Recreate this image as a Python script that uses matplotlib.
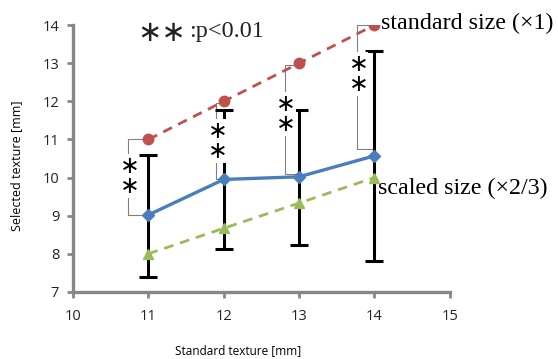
import matplotlib
matplotlib.use("Agg")
import matplotlib.pyplot as plt

# ---- data ----
x_std = [11, 12, 13, 14]
selected = [9.02, 9.95, 10.02, 10.57]
err_upper = [10.6, 11.77, 11.78, 13.32]
err_lower = [7.39, 8.13, 8.22, 7.82]
standard = [11, 12, 13, 14]
scaled = [8.0, 8.67, 9.33, 10.0]
bracket_top = [11.0, 11.95, 12.95, 14.0]
bracket_bottom = [9.02, 9.97, 10.1, 10.75]
bracket_x = [10.73, 11.9, 12.81, 13.77]
star_y = [10.05, 10.95, 11.66, 12.71]
xticks = [10, 11, 12, 13, 14, 15]
yticks = [7, 8, 9, 10, 11, 12, 13, 14]

AX_GRAY = "#878787"
RED = "#C0504D"
BLUE = "#4A7EBB"
GREEN = "#9BBB59"

fig = plt.figure(figsize=(5.58, 3.59), dpi=100)
ax = fig.add_axes([0.131, 0.187, 0.675, 0.743])
ax.set_xlim(10, 15)
ax.set_ylim(7, 14)

for s in ["top", "right"]:
    ax.spines[s].set_visible(False)
for s in ["left", "bottom"]:
    ax.spines[s].set_color(AX_GRAY)
    ax.spines[s].set_linewidth(2.4)

ax.set_xticks(xticks)
ax.set_yticks(yticks)
ax.tick_params(axis="both", colors=AX_GRAY, width=2.0, length=4, direction="out",
               labelcolor="#222222", labelsize=10.5)
for lab in ax.get_xticklabels() + ax.get_yticklabels():
    lab.set_family("Open Sans")
ax.tick_params(axis="x", pad=8)
ax.tick_params(axis="y", pad=6)

# error bars
yerr = [[s - l for s, l in zip(selected, err_lower)],
        [u - s for s, u in zip(selected, err_upper)]]
ax.errorbar(x_std, selected, yerr=yerr, fmt="none", ecolor="black",
            elinewidth=2.2, capsize=6.5, capthick=2.2, zorder=2)

# brackets
for xi, bx, top, bot in zip(x_std, bracket_x, bracket_top, bracket_bottom):
    ax.plot([xi, bx, bx, xi], [top, top, bot, bot], color="#808080", lw=0.8, zorder=1.5)

# series
ax.plot(x_std, selected, color=BLUE, lw=2.4, marker="D", ms=6.5, zorder=4)
ax.plot(x_std, standard, color=RED, lw=2.0, ls=(0, (3.5, 2.5)), marker="o", ms=7.5, zorder=4)
ax.plot(x_std, scaled, color=GREEN, lw=2.0, ls=(0, (3.5, 2.5)), marker="^", ms=7, zorder=4)

# asterisks (one stacked text per bracket)
for bx, yy in zip(bracket_x, star_y):
    ax.text(bx + 0.02, yy, "\u2217\n\u2217", fontsize=17, ha="center", va="center",
            family="DejaVu Sans", color="black", zorder=5, linespacing=0.78,
            bbox=dict(boxstyle="square,pad=0.0", fc="white", ec="none"))

# annotations
fig.text(162 / 558, 1 - 33 / 359, "\u2217\u2217", fontsize=21, ha="center", va="center",
         family="DejaVu Sans", color="#222222")
fig.text(189 / 558, 1 - 31 / 359, ":p<0.01", fontsize=17.5, ha="left", va="center",
         family="Liberation Serif", color="#222222")
fig.text(381 / 558, 1 - 23 / 359, "standard size (\u00d71)", fontsize=17.3, ha="left",
         va="center", family="Liberation Serif", color="black")
fig.text(378 / 558, 1 - 188 / 359, "scaled size (\u00d72/3)", fontsize=17.3, ha="left",
         va="center", family="Liberation Serif", color="black")

fig.text(238 / 558, 1 - 351 / 359, "Standard texture [mm]", fontsize=8.5, ha="center",
         va="center", family="Open Sans", color="black")
fig.text(17 / 558, 1 - 166 / 359, "Selected texture [mm]", fontsize=9, ha="center",
         va="center", rotation=90, family="Open Sans", color="black")

fig.savefig("out.png", dpi=100)
